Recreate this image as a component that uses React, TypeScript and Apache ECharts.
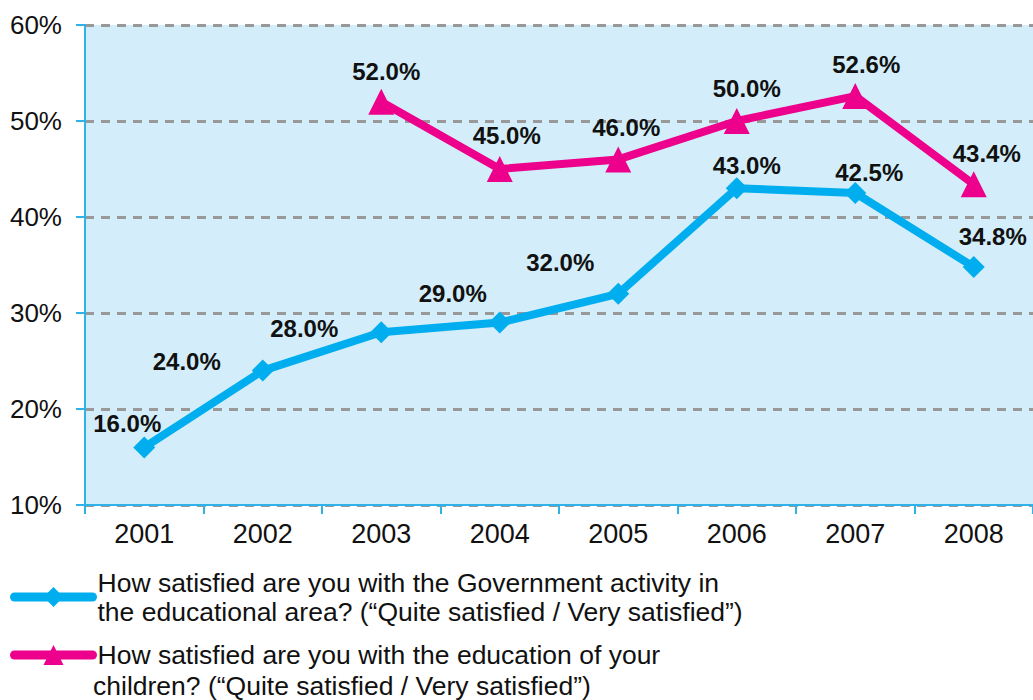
import React, { useEffect, useRef } from "react";
import * as echarts from "echarts";

const years = ["2001", "2002", "2003", "2004", "2005", "2006", "2007", "2008"];
const govActivity = [16.0, 24.0, 28.0, 29.0, 32.0, 43.0, 42.5, 34.8];
const childEducation = [null, null, 52.0, 45.0, 46.0, 50.0, 52.6, 43.4];
const yTicks = [10, 20, 30, 40, 50, 60];
const govName = "How satisfied are you with the Government activity in\nthe educational area? (\u201cQuite satisfied / Very satisfied\u201d)";
const childName = "How satisfied are you with the education of your";
const childName2 = "children? (\u201cQuite satisfied / Very satisfied\u201d)";

// label placement offsets (styling only)
const govLabelOffsets = [[-17, -24], [-76, -9], [-77, -4], [-47, -29], [-58, -31], [10, -23], [14, -21], [19, -30]];
const childLabelOffsets = [[0, 0], [0, 0], [5, -30], [7, -34], [8, -32], [10, -33], [11, -32], [13, -31]];

const BLUE = "#00aeef";
const PINK = "#ec008c";
const AXIS = "#2fb2e8";
const FONT = "'Liberation Sans', Arial, Helvetica, sans-serif";

export default function App() {
  const ref = useRef<HTMLDivElement>(null);
  useEffect(() => {
    if (!ref.current) return;
    const chart = echarts.init(ref.current, null, { renderer: "svg" });
    const mk = (vals: (number | null)[], offs: number[][]) =>
      vals.map((v, i) =>
        v === null
          ? null
          : { value: v, label: { offset: offs[i] } }
      );
    const labelStyle = {
      show: true,
      position: "inside",
      align: "center",
      verticalAlign: "middle",
      fontSize: 24,
      fontWeight: "bold",
      color: "#111",
      fontFamily: FONT,
      formatter: (p: any) => Number(p.value).toFixed(1) + "%",
    };
    const legendText = { fontSize: 26.5, color: "#111", fontFamily: FONT };
    chart.setOption({
      animation: false,
      textStyle: { fontFamily: FONT },
      grid: {
        left: 85,
        right: 0,
        top: 25,
        bottom: 195,
        show: true,
        backgroundColor: "#d3eefa",
        borderWidth: 0,
      },
      legend: [
        {
          left: 10,
          top: 568,
          padding: 0,
          itemWidth: 78,
          itemHeight: 25,
          data: [govName],
          lineStyle: { width: 9, cap: "round" },
          textStyle: { ...legendText, lineHeight: 29 },
        },
        {
          left: 10,
          top: 640,
          padding: 0,
          itemWidth: 78,
          itemHeight: 25,
          data: [childName],
          lineStyle: { width: 9, cap: "round" },
          textStyle: { ...legendText, lineHeight: 30 },
        },
      ],
      graphic: [
        {
          type: "text",
          x: 93,
          y: 686,
          style: { text: childName2, fontSize: 26.5, fill: "#111", fontFamily: FONT, verticalAlign: "middle" },
        },
      ],
      xAxis: {
        type: "category",
        data: years,
        boundaryGap: true,
        axisLine: { show: true, lineStyle: { color: AXIS, width: 2 } },
        axisTick: { show: true, length: 9, interval: 0, lineStyle: { color: AXIS, width: 2 } },
        axisLabel: { fontSize: 27, color: "#111", margin: 15, fontFamily: FONT },
        splitLine: { show: false },
      },
      yAxis: {
        type: "value",
        min: yTicks[0],
        max: yTicks[yTicks.length - 1],
        interval: 10,
        axisLine: { show: true, lineStyle: { color: AXIS, width: 2 } },
        axisTick: { show: true, length: 9, lineStyle: { color: AXIS, width: 2 } },
        axisLabel: { fontSize: 26, color: "#111", margin: 23, formatter: "{value}%", fontFamily: FONT },
        splitLine: { show: true, lineStyle: { color: "#999", width: 3, type: [9, 7] } },
      },
      series: [
        {
          name: govName,
          type: "line",
          data: mk(govActivity, govLabelOffsets),
          symbol: "diamond",
          symbolSize: 22,
          lineStyle: { color: BLUE, width: 8 },
          itemStyle: { color: BLUE },
          label: labelStyle,
          z: 3,
        },
        {
          name: childName,
          type: "line",
          data: mk(childEducation, childLabelOffsets),
          symbol: "triangle",
          symbolSize: 26,
          lineStyle: { color: PINK, width: 8 },
          itemStyle: { color: PINK },
          label: labelStyle,
          z: 3,
        },
      ],
    });
    return () => chart.dispose();
  }, []);
  return (
    <div
      ref={ref}
      style={{ position: "absolute", left: 0, top: 0, width: 1033, height: 700, background: "#fff" }}
    />
  );
}
